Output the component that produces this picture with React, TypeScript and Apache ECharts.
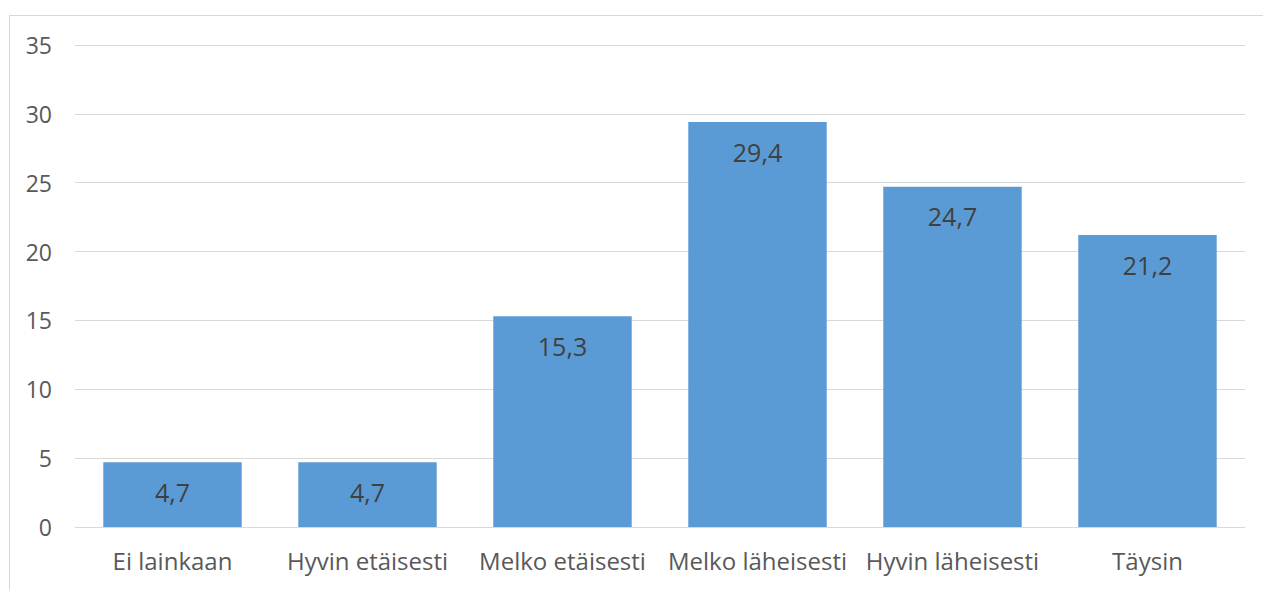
import React, { useEffect, useRef } from "react";
import * as echarts from "echarts";

const categories = ["Ei lainkaan", "Hyvin etäisesti", "Melko etäisesti", "Melko läheisesti", "Hyvin läheisesti", "Täysin"];
const values = [4.7, 4.7, 15.3, 29.4, 24.7, 21.2];

export default function App() {
  const ref = useRef<HTMLDivElement>(null);
  useEffect(() => {
    const chart = echarts.init(ref.current!, null, { renderer: "svg" });
    chart.setOption({
      animation: false,
      backgroundColor: "#ffffff",
      textStyle: { fontFamily: "Open Sans" },
      graphic: [
        {
          type: "rect",
          shape: { x: 9.5, y: 15.5, width: 1270, height: 600 },
          style: { fill: "none", stroke: "#d9d9d9", lineWidth: 1 },
          silent: true,
        },
      ],
      grid: { left: 75, right: 18, top: 45, bottom: 63 },
      xAxis: {
        type: "category",
        data: categories,
        axisLine: { show: true, lineStyle: { color: "#d9d9d9", width: 1 } },
        axisTick: { show: false },
        axisLabel: { color: "#595959", fontSize: 24, margin: 21, interval: 0, fontFamily: "Open Sans" },
      },
      yAxis: {
        type: "value",
        min: 0,
        max: 35,
        interval: 5,
        axisLine: { show: false },
        axisTick: { show: false },
        splitLine: { lineStyle: { color: "#d9d9d9", width: 1 } },
        axisLabel: { color: "#595959", fontSize: 23, margin: 23, fontFamily: "Open Sans" },
      },
      series: [
        {
          type: "bar",
          data: values,
          barCategoryGap: "29%",
          itemStyle: { color: "#5b9bd5" },
          label: {
            show: true,
            position: "insideTop",
            distance: 17,
            color: "#404040",
            fontSize: 25,
            fontFamily: "Open Sans",
            formatter: (p: any) => String(p.value).replace(".", ","),
          },
        },
      ],
    });
    return () => chart.dispose();
  }, []);
  return <div ref={ref} style={{ position: "fixed", left: 0, top: 0, width: 1263, height: 590 }} />;
}
